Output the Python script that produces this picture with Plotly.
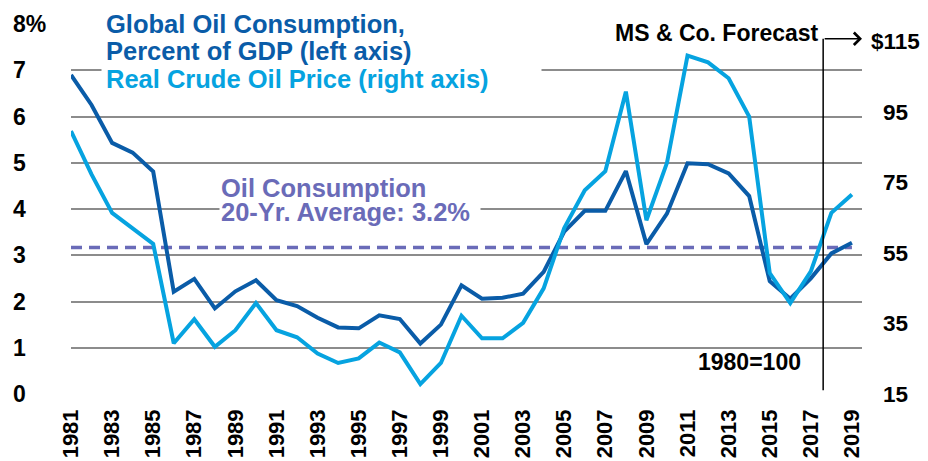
import plotly.graph_objects as go

# ---------------- data ----------------
years = list(range(1981, 2020))
consumption_pct_gdp = [6.90, 6.25, 5.43, 5.22, 4.81, 2.21, 2.49, 1.85, 2.22, 2.46,
                       2.03, 1.90, 1.65, 1.44, 1.42, 1.70, 1.62, 1.09, 1.50, 2.35,
                       2.06, 2.08, 2.17, 2.64, 3.51, 3.96, 3.96, 4.82, 3.24, 3.90,
                       4.99, 4.97, 4.77, 4.28, 2.44, 2.06, 2.50, 3.04, 3.27]
real_oil_price = [89.6, 77.3, 66.4, 62.1, 57.6, 29.4, 36.2, 28.4, 33.1, 40.8,
                  33.1, 31.1, 26.5, 23.8, 25.1, 29.6, 26.8, 17.8, 23.8, 37.2,
                  30.8, 30.8, 35.2, 45.0, 62.1, 72.8, 78.2, 100.8, 64.3, 80.6,
                  111.0, 109.1, 104.6, 93.7, 49.3, 40.8, 49.8, 66.4, 71.6]
avg_20yr = 3.17
forecast_start = 2017.6

x_tick_years = list(range(1981, 2020, 2))
left_ticks = [0, 1, 2, 3, 4, 5, 6, 7, 8]
left_tick_text = ["0", "1", "2", "3", "4", "5", "6", "7", "8%"]
right_ticks = [15, 35, 55, 75, 95, 115]
right_tick_text = ["15", "35", "55", "75", "95", "$115"]

# ---------------- style ----------------
DARK = "#0a5ca8"
LIGHT = "#06a3e0"
PURPLE = "#6a6bb8"
GRID = "#8c8c8c"
FONT = "Liberation Sans, Arial, sans-serif"

# the page body adds an 8px offset; size the figure to fill the rest of the window
OFF = 8
W, H = 928 - OFF, 461 - OFF
ML, MR, MT, MB = 63, 66, 16, 67
PW = W - ML - MR
PH = H - MT - MB


def sx(px):
    """screen x pixel -> paper x"""
    return (px - OFF - ML) / PW


def sy(py):
    """screen y pixel -> paper y"""
    return 1 - (py - OFF - MT) / PH


fig = go.Figure()

fig.add_trace(go.Scatter(x=[years[0], years[-1]], y=[avg_20yr, avg_20yr], mode="lines",
                         line=dict(color=PURPLE, width=3.5, dash="11px,7px"),
                         hoverinfo="skip", showlegend=False))
fig.add_trace(go.Scatter(x=years, y=real_oil_price, yaxis="y2", mode="lines",
                         line=dict(color=LIGHT, width=4), showlegend=False,
                         name="Real Crude Oil Price"))
fig.add_trace(go.Scatter(x=years, y=consumption_pct_gdp, mode="lines",
                         line=dict(color=DARK, width=4), showlegend=False,
                         name="Global Oil Consumption, % of GDP"))

annotations = []
# left axis labels (left aligned)
for v, t in zip(left_ticks, left_tick_text):
    annotations.append(dict(x=sx(11), xref="paper", y=v, yref="y", text=t,
                            showarrow=False, xanchor="left", yanchor="middle",
                            font=dict(family=FONT, size=23, color="black", weight="bold")))
# right axis labels (centered)
for v, t in zip(right_ticks, right_tick_text):
    annotations.append(dict(x=sx(895), xref="paper", y=v, yref="y2", text=t,
                            showarrow=False, xanchor="center", yanchor="middle",
                            borderpad=0,
                            font=dict(family=FONT, size=22.5, color="black", weight="bold")))

legend_font = dict(family=FONT, size=25.5, weight="bold")
annotations += [
    dict(x=sx(101), xref="paper", y=sy(24), yref="paper",
         text="Global Oil Consumption,", showarrow=False, xanchor="left", yanchor="middle",
         align="left", width=431, bgcolor="white", borderpad=4,
         font=dict(legend_font, color=DARK)),
    dict(x=sx(101), xref="paper", y=sy(79), yref="paper",
         text="Real Crude Oil Price (right axis)", showarrow=False, xanchor="left",
         yanchor="middle", align="left", width=431, bgcolor="white", borderpad=4,
         font=dict(legend_font, color=LIGHT)),
    dict(x=sx(101), xref="paper", y=sy(50.5), yref="paper",
         text="Percent of GDP (left axis)", showarrow=False, xanchor="left",
         yanchor="middle", align="left", borderpad=4,
         font=dict(legend_font, color=DARK)),
    dict(x=sx(219), xref="paper", y=sy(212), yref="paper",
         text="20-Yr. Average: 3.2%", showarrow=False, xanchor="left",
         yanchor="middle", align="left", width=258, bgcolor="white", borderpad=1,
         font=dict(legend_font, color=PURPLE)),
    dict(x=sx(219), xref="paper", y=sy(188), yref="paper",
         text="Oil Consumption", showarrow=False, xanchor="left",
         yanchor="middle", align="left", borderpad=1,
         font=dict(legend_font, color=PURPLE)),
    dict(x=sx(822), xref="paper", y=sy(33), yref="paper",
         text="MS & Co. Forecast", showarrow=False, xanchor="right",
         yanchor="middle", bgcolor="white", borderpad=2,
         font=dict(family=FONT, size=23, color="black", weight="bold")),
    dict(x=2014, xref="x", y=0.69, yref="y", text="1980=100", showarrow=False,
         xanchor="center", yanchor="middle",
         font=dict(family=FONT, size=23, color="black", weight="bold")),
    # forecast arrow
    dict(x=2019.49, xref="x", y=7.68, yref="y", ax=forecast_start, axref="x",
         ay=7.68, ayref="y", text="", showarrow=True, arrowhead=4, arrowsize=1.6,
         arrowwidth=1.5, arrowcolor="black"),
]

fig.add_shape(type="line", xref="x", yref="y", x0=forecast_start, x1=forecast_start,
              y0=0.08, y1=7.68, line=dict(color="black", width=1.5))

fig.update_layout(
    width=W, height=H, autosize=False,
    margin=dict(l=ML, r=MR, t=MT, b=MB, pad=0),
    paper_bgcolor="white", plot_bgcolor="white",
    showlegend=False,
    font=dict(family=FONT, color="black"),
    xaxis=dict(range=[1981, 2019.49], tickvals=x_tick_years, tickangle=-90,
               showgrid=False, zeroline=False, showline=False, ticks="",
               ticklabelstandoff=10, automargin=False,
               tickfont=dict(family=FONT, size=22, color="black", weight="bold")),
    yaxis=dict(range=[0, 8], tickvals=left_ticks, showticklabels=False,
               showgrid=True, gridcolor=GRID, gridwidth=1.5, zeroline=False,
               showline=False, ticks="", automargin=False),
    yaxis2=dict(range=[15, 120], overlaying="y", side="right", showgrid=False,
                showticklabels=False, zeroline=False, showline=False, ticks="",
                automargin=False),
    annotations=annotations,
)

fig.write_html("out.html")
